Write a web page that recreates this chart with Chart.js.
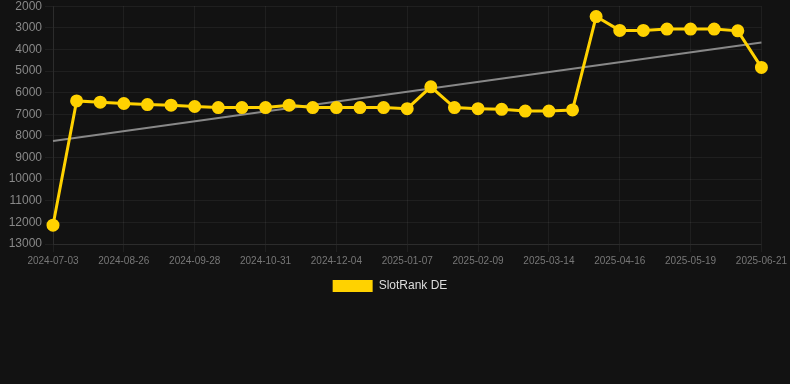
<!DOCTYPE html>
<html>
<head>
<meta charset="utf-8">
<script src="https://cdn.jsdelivr.net/npm/chart.js@4/dist/chart.umd.min.js"></script>
<style>
  html, body { margin: 0; padding: 0; background: #121212; overflow: hidden; }
  #wrap { position: relative; width: 790px; height: 306px; margin-top: -4px; }
</style>
</head>
<body>
<div id="wrap"><canvas id="myChart"></canvas></div>
<script>
let dates = ['2024-07-03', '2024-08-04', '2024-08-15', '2024-08-26', '2024-09-06', '2024-09-17',
  '2024-09-28', '2024-10-09', '2024-10-20', '2024-10-31', '2024-11-11', '2024-11-22',
  '2024-12-04', '2024-12-15', '2024-12-26', '2025-01-07', '2025-01-18', '2025-01-29',
  '2025-02-09', '2025-02-20', '2025-03-03', '2025-03-14', '2025-03-25', '2025-04-05',
  '2025-04-16', '2025-04-27', '2025-05-08', '2025-05-19', '2025-05-30', '2025-06-10',
  '2025-06-21'];

let ranks = [12130, 6380, 6440, 6500, 6550, 6580, 6640, 6690, 6690, 6690, 6580, 6690,
  6690, 6690, 6690, 6740, 5730, 6690, 6740, 6770, 6850, 6850, 6800, 2480,
  3120, 3120, 3060, 3060, 3060, 3140, 4830];

// trend line end points
let trendStart = 8240;
let trendEnd = 3680;

let trend = dates.map((d, i) => i === 0 ? trendStart : (i === dates.length - 1 ? trendEnd : null));

let gold = '#ffd200';
let gridColor = 'rgba(255,255,255,0.06)';

Chart.defaults.font.family = 'Arial, "Liberation Sans", sans-serif';

let settings = {
  type: 'line',
  data: {
    labels: dates,
    datasets: [
      {
        label: 'SlotRank DE',
        data: ranks,
        borderColor: gold,
        backgroundColor: gold,
        borderWidth: 3,
        pointRadius: 5,
        pointHoverRadius: 5,
        pointBackgroundColor: gold,
        pointBorderColor: gold,
        tension: 0
      },
      {
        label: 'trend',
        data: trend,
        borderColor: '#888888',
        borderWidth: 2,
        pointRadius: 0,
        spanGaps: true,
        tension: 0
      }
    ]
  },
  options: {
    responsive: true,
    maintainAspectRatio: false,
    animation: false,
    layout: { padding: { left: 0, right: 10 } },
    plugins: {
      legend: {
        position: 'bottom',
        labels: {
          color: '#dddddd',
          boxWidth: 40,
          boxHeight: 12,
          font: { size: 12 },
          generateLabels: chart => {
            let items = Chart.defaults.plugins.legend.labels.generateLabels(chart);
            return items.filter(it => it.datasetIndex === 0).map(it => {
              it.lineWidth = 0;
              return it;
            });
          }
        }
      },
      tooltip: { enabled: false }
    },
    scales: {
      x: {
        grid: { color: gridColor, tickColor: gridColor },
        border: { color: gridColor },
        ticks: {
          color: '#777777',
          font: { size: 10 },
          maxRotation: 0,
          autoSkip: false,
          callback: function(val, idx) {
            return idx % 3 === 0 ? this.getLabelForValue(val) : null;
          }
        }
      },
      y: {
        reverse: true,
        min: 2000,
        max: 13000,
        afterFit: axis => { axis.width = 53; },
        grid: { color: gridColor, tickColor: gridColor },
        border: { color: gridColor },
        ticks: {
          color: '#888888',
          font: { size: 12 },
          stepSize: 1000,
          callback: val => String(val)
        }
      }
    }
  }
};

window.chart = new Chart('myChart', settings);
</script>
</body>
</html>
